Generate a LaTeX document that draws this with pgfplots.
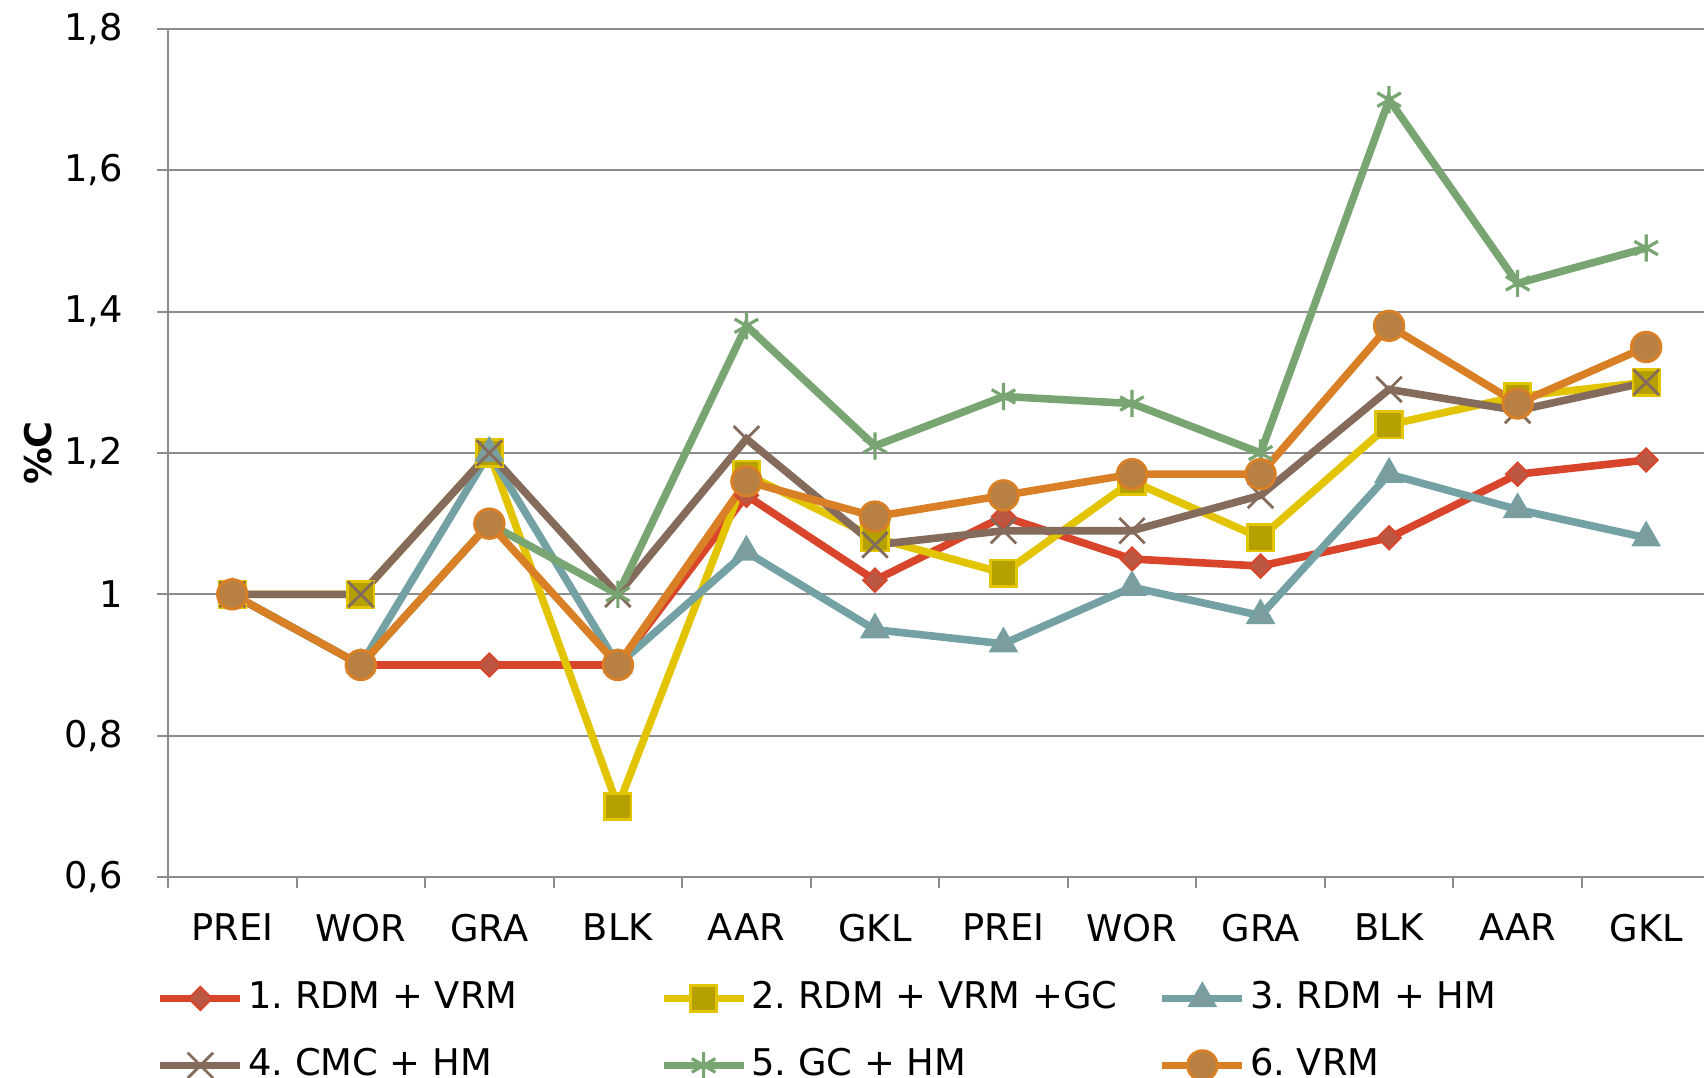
\documentclass[border=0pt]{standalone}
\usepackage{fontspec}
\setmainfont{DejaVu Sans}
\usepackage{pgfplots}
\pgfplotsset{compat=1.18}
\frenchspacing
\definecolor{cA}{HTML}{D9452A}\definecolor{cAf}{HTML}{BC5743}
\definecolor{cB}{HTML}{E2C400}\definecolor{cBf}{HTML}{B5A000}
\definecolor{cC}{HTML}{74A1A3}\definecolor{cCf}{HTML}{7D9C9E}
\definecolor{cD}{HTML}{846B5C}
\definecolor{cE}{HTML}{78A572}
\definecolor{cF}{HTML}{D98026}\definecolor{cFf}{HTML}{B98043}
\definecolor{gridgray}{HTML}{8C8C8C}
\begin{document}
\frenchspacing
\begin{tikzpicture}
\useasboundingbox (0,0) rectangle (426pt,-269.5pt);
\begin{axis}[
  at={(42pt,-219.25pt)}, anchor=south west,
  scale only axis, width=384pt, height=212pt,
  xmin=-0.5, xmax=11.45, ymin=0.6, ymax=1.8,
  axis x line*=bottom, axis y line*=left,
  axis line style={gridgray, line width=0.5pt, -},
  xtick={0,...,11},
  xticklabels={PREI,WOR,GRA,BLK,AAR,GKL,PREI,WOR,GRA,BLK,AAR,GKL},
  minor xtick={-0.5,0.5,1.5,2.5,3.5,4.5,5.5,6.5,7.5,8.5,9.5,10.5},
  major x tick style={draw=none},
  minor x tick style={gridgray, line width=0.5pt},
  minor tick length=2.7pt,
  ytick={0.6,0.8,1,1.2,1.4,1.6,1.8},
  major y tick style={gridgray, line width=0.5pt},
  major tick length=2.7pt,
  tick align=outside,
  ymajorgrids, grid style={gridgray, line width=0.5pt},
  /pgf/number format/assume math mode=true,
  /pgf/number format/use comma,
  /pgf/number format/fixed,
  /pgf/number format/precision=1,
  tick label style={font=\fontsize{9.2}{11}\selectfont},
  xticklabel style={yshift=-3pt},
  yticklabel style={xshift=-5pt},
  ylabel={\textbf{\%C}},
  ylabel style={at={(rel axis cs:-0.0846,0.5)}, anchor=center, font=\fontsize{9.2}{11}\selectfont},
  legend columns=3,
  legend cell align=left,
  legend style={at={(-0.0074,-0.122)}, anchor=north west, draw=none, fill=none,
    inner sep=0pt, outer sep=0pt, font=\fontsize{9.2}{11}\selectfont,
    nodes={inner sep=0pt, text height=7pt, text depth=2pt},
    row sep=7.75pt,
    /tikz/every odd column/.append style={column sep=1pt},
    /tikz/column 2/.style={column sep=35.6pt},
    /tikz/column 4/.style={column sep=10.3pt}},
  legend image code/.code={\draw[mark repeat=2,mark phase=2] plot coordinates {(0pt,0pt)(10pt,0pt)(20pt,0pt)};},
]
\addplot[cA, line width=1.9pt, mark=square*, mark size=2.05pt, mark options={rotate=45, fill=cAf, draw=cA, line width=0.5pt}]
 coordinates {(0,1.0)(1,0.9)(2,0.9)(3,0.9)(4,1.14)(5,1.02)(6,1.11)(7,1.05)(8,1.04)(9,1.08)(10,1.17)(11,1.19)};
\addlegendentry{1. RDM + VRM}
\addplot[cB, line width=1.9pt, mark=square*, mark size=3.3pt, mark options={fill=cBf, draw=cB, line width=0.7pt}]
 coordinates {(0,1.0)(1,1.0)(2,1.2)(3,0.7)(4,1.17)(5,1.08)(6,1.03)(7,1.16)(8,1.08)(9,1.24)(10,1.28)(11,1.30)};
\addlegendentry{2. RDM + VRM +GC}
\addplot[cC, line width=1.9pt, mark=triangle*, mark size=3.9pt, mark options={fill=cCf, draw=cC, line width=0.4pt}]
 coordinates {(0,1.0)(1,0.9)(2,1.2)(3,0.9)(4,1.06)(5,0.95)(6,0.93)(7,1.01)(8,0.97)(9,1.17)(10,1.12)(11,1.08)};
\addlegendentry{3. RDM + HM}
\addplot[cD, line width=1.9pt, mark=x, mark size=4.5pt, mark options={draw=cD, line width=0.7pt}]
 coordinates {(0,1.0)(1,1.0)(2,1.2)(3,1.0)(4,1.22)(5,1.07)(6,1.09)(7,1.09)(8,1.14)(9,1.29)(10,1.26)(11,1.30)};
\addlegendentry{4. CMC + HM}
\addplot[cE, line width=1.9pt, mark=asterisk, mark size=3.4pt, mark options={draw=cE, line width=0.8pt}]
 coordinates {(0,1.0)(1,0.9)(2,1.1)(3,1.0)(4,1.38)(5,1.21)(6,1.28)(7,1.27)(8,1.20)(9,1.70)(10,1.44)(11,1.49)};
\addlegendentry{5. GC + HM}
\addplot[cF, line width=1.9pt, mark=*, mark size=3.7pt, mark options={fill=cFf, draw=cF, line width=0.7pt}]
 coordinates {(0,1.0)(1,0.9)(2,1.1)(3,0.9)(4,1.16)(5,1.11)(6,1.14)(7,1.17)(8,1.17)(9,1.38)(10,1.27)(11,1.35)};
\addlegendentry{6. VRM}
\end{axis}
\end{tikzpicture}
\end{document}
